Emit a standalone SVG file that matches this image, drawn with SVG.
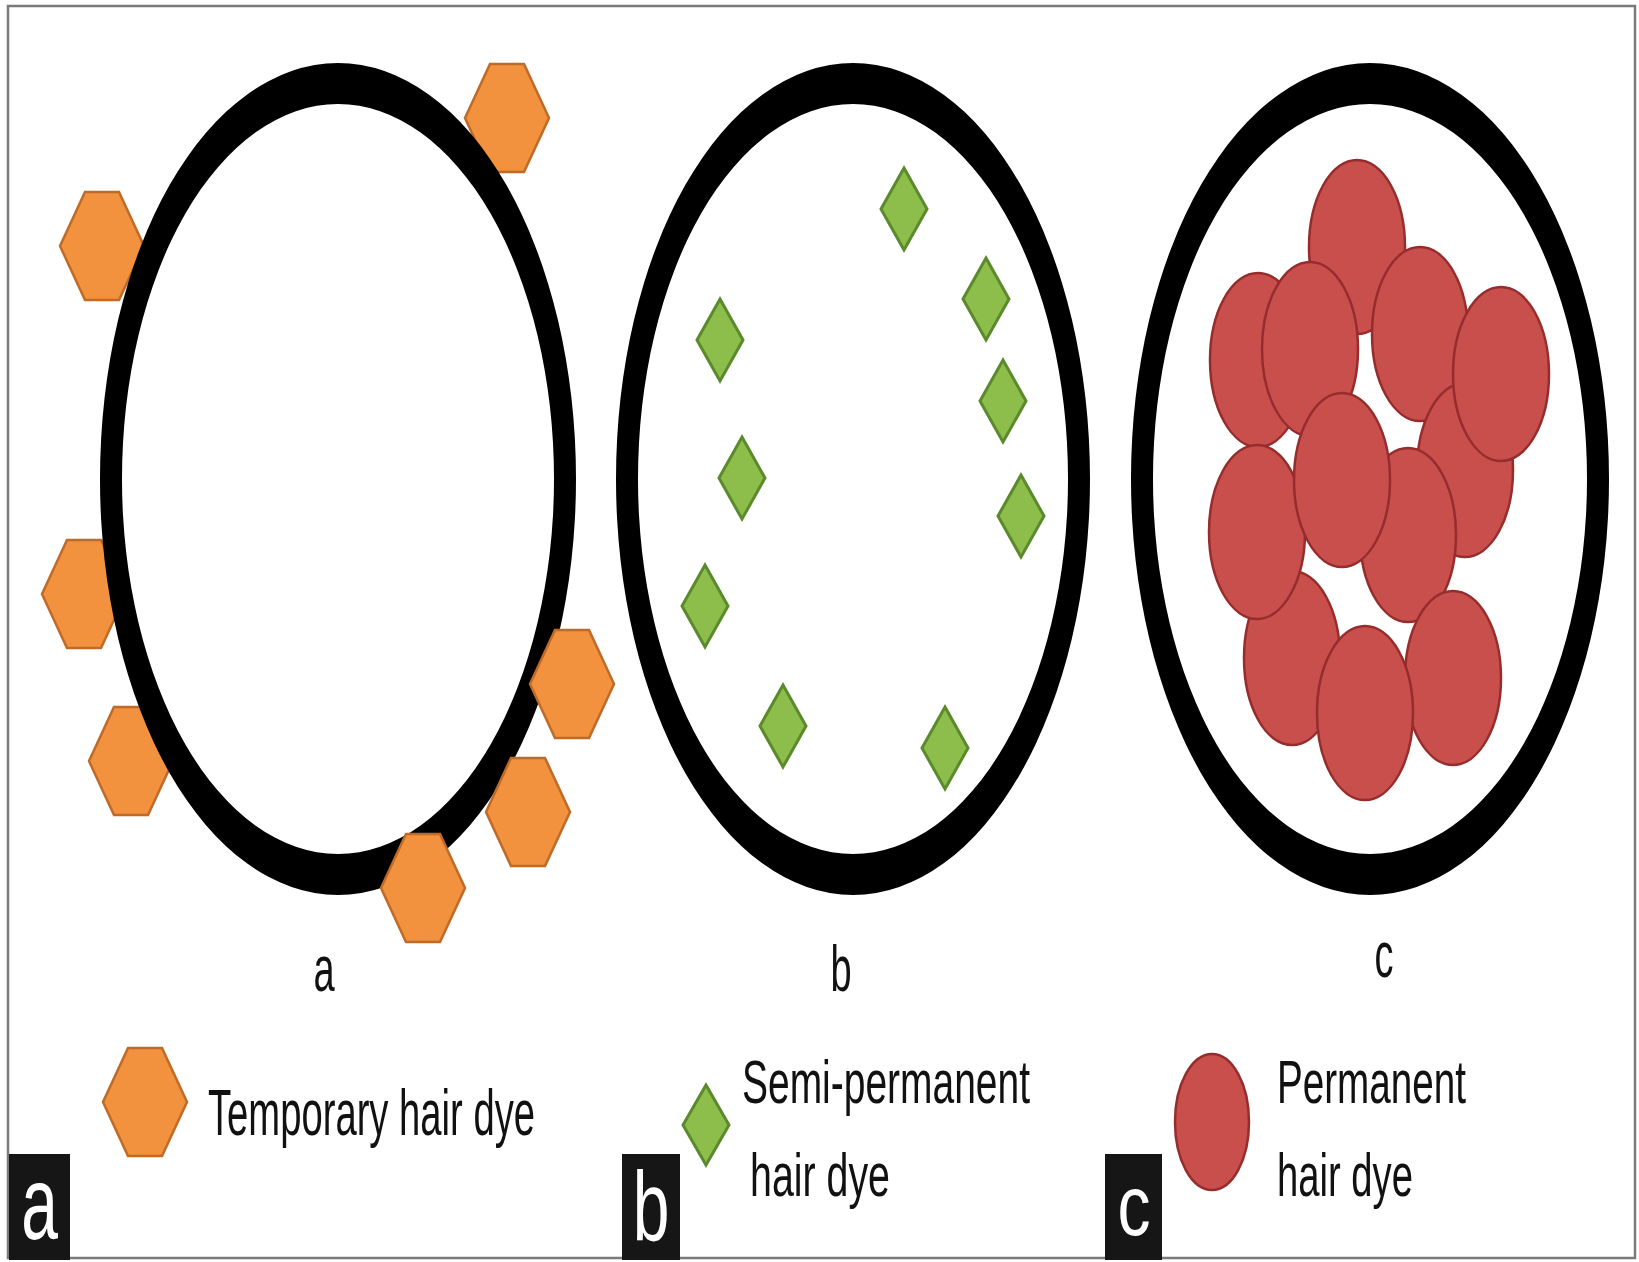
<svg xmlns="http://www.w3.org/2000/svg" xmlns:xlink="http://www.w3.org/1999/xlink" width="1639" height="1262" viewBox="0 0 1639 1262">
<style>
.ring{fill:#000;fill-rule:evenodd}
.hex{fill:#F2923F;stroke:#BF6A26;stroke-width:2.5}
.dia{fill:#8DBE4B;stroke:#5A8A2B;stroke-width:3}
.red{fill:#C94F4D;stroke:#962C2C;stroke-width:2.5}
.lbl{font-family:"Liberation Sans",Arial,sans-serif;font-size:38px;fill:#111}
.box{fill:#161616}
.boxt{font-family:"Liberation Sans",Arial,sans-serif;font-size:66px;fill:#fff}
</style>
<defs>
<polygon id="hx" class="hex" points="-17,-54 17,-54 42,0 17,54 -17,54 -42,0"/>
<polygon id="dm" class="dia" points="0,-41 23,0 0,41 -23,0"/>
<ellipse id="rd" class="red" rx="48" ry="87"/>
</defs>
<rect x="0" y="0" width="1639" height="1262" fill="#fff"/>
<rect x="8" y="6" width="1627" height="1252" fill="none" stroke="#7a7a7a" stroke-width="2.5"/>

<g id="panel-a">
<use href="#hx" x="507" y="118"/>
<use href="#hx" x="102" y="246"/>
<use href="#hx" x="84" y="594"/>
<use href="#hx" x="131" y="761"/>
<path class="ring" d="M100,479a238,416 0 1,0 476,0a238,416 0 1,0 -476,0Z M122,479a216,375 0 1,0 432,0a216,375 0 1,0 -432,0Z"/>
<use href="#hx" x="572" y="684"/>
<use href="#hx" x="528" y="812"/>
<use href="#hx" x="423" y="888"/>
<g transform="translate(324,991) scale(1,1.7)"><text class="lbl" text-anchor="middle">a</text></g>
</g>

<g id="panel-b">
<path class="ring" d="M616,479a237,416 0 1,0 474,0a237,416 0 1,0 -474,0Z M638,479a215,375 0 1,0 430,0a215,375 0 1,0 -430,0Z"/>
<use href="#dm" x="904" y="209"/>
<use href="#dm" x="986" y="299"/>
<use href="#dm" x="720" y="340"/>
<use href="#dm" x="1003" y="401"/>
<use href="#dm" x="742" y="478"/>
<use href="#dm" x="1021" y="516"/>
<use href="#dm" x="705" y="606"/>
<use href="#dm" x="783" y="726"/>
<use href="#dm" x="945" y="748"/>
<g transform="translate(841,991) scale(1,1.7)"><text class="lbl" text-anchor="middle">b</text></g>
</g>

<g id="panel-c">
<path class="ring" d="M1131,479a239,416 0 1,0 478,0a239,416 0 1,0 -478,0Z M1153,479a217,375 0 1,0 434,0a217,375 0 1,0 -434,0Z"/>
<use href="#rd" x="1357" y="247"/>
<use href="#rd" x="1258" y="360"/>
<use href="#rd" x="1310" y="349"/>
<use href="#rd" x="1420" y="334"/>
<use href="#rd" x="1465" y="470"/>
<use href="#rd" x="1501" y="374"/>
<use href="#rd" x="1292" y="658"/>
<use href="#rd" x="1257" y="532"/>
<use href="#rd" x="1408" y="535"/>
<use href="#rd" x="1342" y="480"/>
<use href="#rd" x="1453" y="678"/>
<use href="#rd" x="1365" y="713"/>
<g transform="translate(1384,977) scale(1,1.7)"><text class="lbl" text-anchor="middle">c</text></g>
</g>

<g id="legend-a">
<use href="#hx" x="145" y="1102"/>
<g transform="translate(208,1135) scale(1,1.7)"><text class="lbl" textLength="327" lengthAdjust="spacingAndGlyphs">Temporary hair dye</text></g>
<rect class="box" x="9" y="1154" width="61" height="106"/>
<g transform="translate(39.5,1239) scale(1,1.58)"><text class="boxt" text-anchor="middle">a</text></g>
</g>

<g id="legend-b">
<polygon class="dia" points="706,1085 729,1125 706,1165 683,1125"/>
<g transform="translate(742,1103) scale(1,1.6)"><text class="lbl" textLength="288" lengthAdjust="spacingAndGlyphs">Semi-permanent</text></g>
<g transform="translate(750,1196) scale(1,1.6)"><text class="lbl" textLength="140" lengthAdjust="spacingAndGlyphs">hair dye</text></g>
<rect class="box" x="622" y="1154" width="58" height="106"/>
<g transform="translate(651,1240) scale(1,1.5)"><text class="boxt" text-anchor="middle">b</text></g>
</g>

<g id="legend-c">
<ellipse class="red" cx="1212" cy="1122" rx="37" ry="68"/>
<g transform="translate(1277,1103) scale(1,1.6)"><text class="lbl" textLength="189" lengthAdjust="spacingAndGlyphs">Permanent</text></g>
<g transform="translate(1277,1196) scale(1,1.6)"><text class="lbl" textLength="136" lengthAdjust="spacingAndGlyphs">hair dye</text></g>
<rect class="box" x="1105" y="1154" width="57" height="106"/>
<g transform="translate(1134,1235) scale(1,1.3)"><text class="boxt" text-anchor="middle">c</text></g>
</g>
</svg>
